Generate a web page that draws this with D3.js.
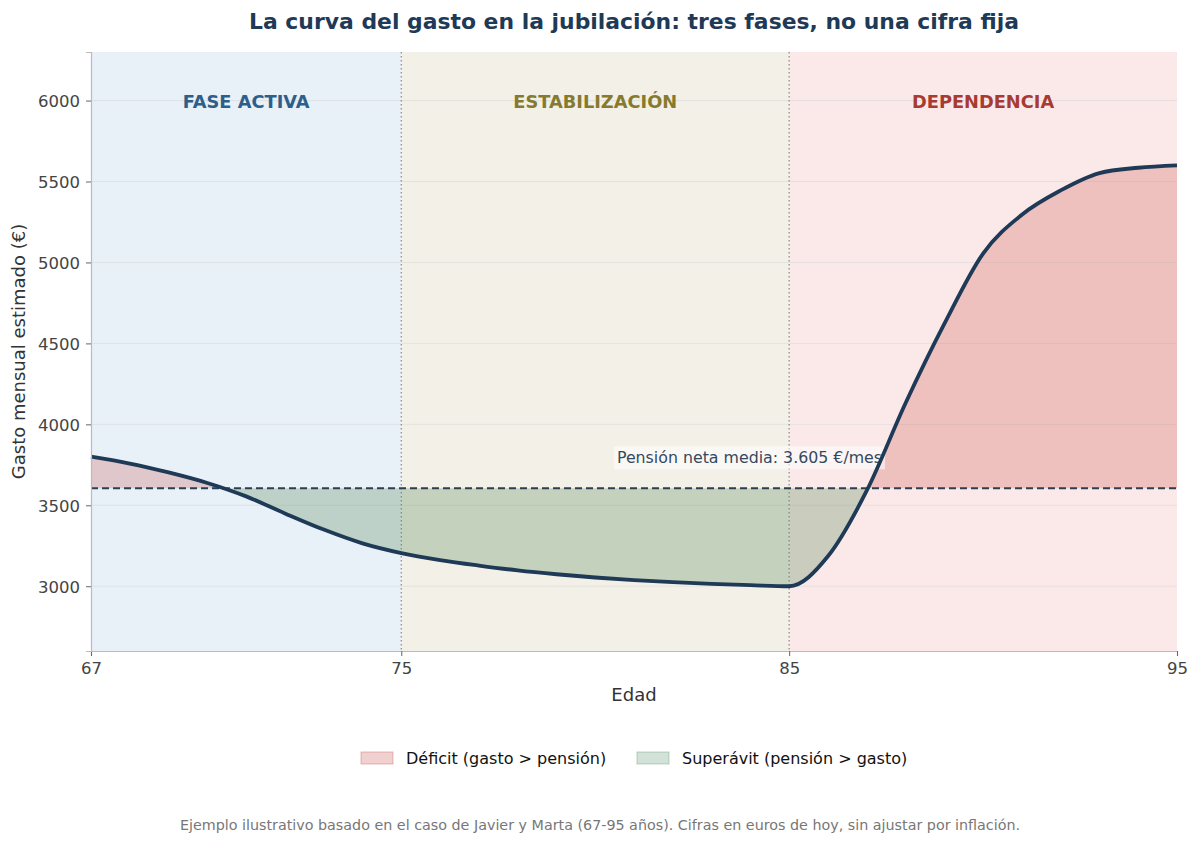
<!DOCTYPE html>
<html><head><meta charset="utf-8">
<script src="https://cdn.jsdelivr.net/npm/d3@7"></script>
<style>body{margin:0;background:#fff}svg{display:block}text{font-family:"DejaVu Sans",sans-serif}</style>
</head><body><svg id="c" width="1200" height="845"></svg>
<script>
const ages = [67,68,69,70,71,72,73,74,75,76,77,78,79,80,81,82,83,84,85,86,87,88,89,90,91,92,93,94,95];
const gasto = [3800,3758,3703,3638,3555,3450,3350,3265,3205,3162,3128,3098,3074,3054,3038,3025,3015,3007,3000,3185,3590,4130,4620,5055,5295,5445,5552,5585,5600];
const pension = 3605;
const phases = [
  {name:"FASE ACTIVA", from:67, to:75, bg:"#e8f0f8", color:"#2c5f8a"},
  {name:"ESTABILIZACIÓN", from:75, to:85, bg:"#f3f0e8", color:"#857a2e"},
  {name:"DEPENDENCIA", from:85, to:95, bg:"#fbe9e9", color:"#a83a32"}
];
const xTicks = [67,75,85,95];
const yTicks = [3000,3500,4000,4500,5000,5500,6000];
const legendItems = [
  {label:"Déficit (gasto > pensión)", fill:"rgba(214,120,120,0.35)", stroke:"rgba(214,120,120,0.5)"},
  {label:"Superávit (pensión > gasto)", fill:"rgba(110,160,125,0.3)", stroke:"rgba(110,160,125,0.45)"}
];
const title = "La curva del gasto en la jubilación: tres fases, no una cifra fija";
const footer = "Ejemplo ilustrativo basado en el caso de Javier y Marta (67-95 años). Cifras en euros de hoy, sin ajustar por inflación.";
const pensionLabel = "Pensión neta media: 3.605 €/mes";

const svg = d3.select("#c");
const m = {l:91, r:23, t:52, b:194};
const W = 1200, H = 845;
const x = d3.scaleLinear().domain([67,95]).range([m.l, W-m.r]);
const y = d3.scaleLinear().domain([2600,6300]).range([H-m.b, m.t]);
const data = ages.map((a,i)=>({a, v:gasto[i]}));

// phase backgrounds
svg.selectAll("rect.ph").data(phases).join("rect")
  .attr("x", d=>x(d.from)).attr("width", d=>x(d.to)-x(d.from))
  .attr("y", y(6300)).attr("height", y(2600)-y(6300))
  .attr("fill", d=>d.bg);

// grid
svg.append("g").selectAll("line").data(yTicks).join("line")
  .attr("x1", x(67)).attr("x2", x(95)).attr("y1", d=>y(d)).attr("y2", d=>y(d))
  .attr("stroke", "#d8d8d8").attr("stroke-opacity",0.6).attr("stroke-width",1);

// phase labels
svg.selectAll("text.ph").data(phases).join("text")
  .attr("x", d=>(x(d.from)+x(d.to))/2).attr("y", y(6000)+7)
  .attr("text-anchor","middle").attr("font-size","17.8px").attr("font-weight","bold")
  .attr("fill", d=>d.color).text(d=>d.name);

// vertical dotted lines
svg.append("g").selectAll("line").data([75,85]).join("line")
  .attr("x1", d=>x(d)).attr("x2", d=>x(d)).attr("y1", y(6300)).attr("y2", y(2600))
  .attr("stroke","#888").attr("stroke-width",1.2).attr("stroke-dasharray","1.5,2.5");

// areas with clip
const defs = svg.append("defs");
defs.append("clipPath").attr("id","above").append("rect")
  .attr("x", x(67)).attr("width", x(95)-x(67)).attr("y", 0).attr("height", y(pension));
defs.append("clipPath").attr("id","below").append("rect")
  .attr("x", x(67)).attr("width", x(95)-x(67)).attr("y", y(pension)).attr("height", H-y(pension));
const curve = d3.curveMonotoneX;
const area = d3.area().x(d=>x(d.a)).y0(y(pension)).y1(d=>y(d.v)).curve(curve);
svg.append("path").datum(data).attr("d", area).attr("clip-path","url(#above)")
  .attr("fill","rgba(200,80,75,0.26)");
svg.append("path").datum(data).attr("d", area).attr("clip-path","url(#below)")
  .attr("fill","rgba(90,138,90,0.3)");

// pension line
svg.append("line").attr("x1", x(67)).attr("x2", x(95)).attr("y1", y(pension)).attr("y2", y(pension))
  .attr("stroke","#2c3e50").attr("stroke-width",2).attr("stroke-dasharray","7,4");

// pension label
const lbl = svg.append("g");
const lt = lbl.append("text").attr("x", x(80.56)).attr("y", y(pension)-25)
  .attr("font-size","15.8px").attr("fill","#34495e").text(pensionLabel);
const bb = lt.node().getBBox();
lbl.insert("rect","text").attr("x", bb.x-3).attr("y", bb.y-2).attr("width", bb.width+6).attr("height", bb.height+4)
  .attr("fill","#fff").attr("fill-opacity",0.55);

// main line
const line = d3.line().x(d=>x(d.a)).y(d=>y(d.v)).curve(curve);
svg.append("path").datum(data).attr("d", line).attr("fill","none")
  .attr("stroke","#1e3a56").attr("stroke-width",3.8).attr("stroke-linejoin","round");

// axes
const xa = svg.append("g").attr("transform",`translate(0,${y(2600)})`)
  .call(d3.axisBottom(x).tickValues(xTicks).tickFormat(d3.format("d")).tickSize(5).tickPadding(6));
const ya = svg.append("g").attr("transform",`translate(${x(67)},0)`)
  .call(d3.axisLeft(y).tickValues(yTicks).tickFormat(d3.format("d")).tickSize(5).tickPadding(6));
[xa,ya].forEach(g=>{
  g.select(".domain").attr("stroke","#bbb").attr("stroke-width",1.2);
  g.selectAll(".tick line").attr("stroke","#666");
  g.selectAll(".tick text").attr("font-size","16.5px").attr("fill","#444").attr("font-family","DejaVu Sans");
});
ya.selectAll(".tick text").attr("dy","0.35em");

// axis labels
svg.append("text").attr("x",(x(67)+x(95))/2).attr("y",701).attr("text-anchor","middle")
  .attr("font-size","18px").attr("fill","#333").text("Edad");
svg.append("text").attr("transform",`translate(25,${(y(2600)+y(6300))/2}) rotate(-90)`)
  .attr("text-anchor","middle").attr("font-size","18px").attr("fill","#333").text("Gasto mensual estimado (€)");

// title
svg.append("text").attr("x",(x(67)+x(95))/2).attr("y",29).attr("text-anchor","middle")
  .attr("font-size","21.9px").attr("font-weight","bold").attr("fill","#1e3a56").text(title);

// legend
const lg = svg.append("g");
const starts = [361, 637];
legendItems.forEach((d,i)=>{
  lg.append("rect").attr("x", starts[i]).attr("y", 752).attr("width",32).attr("height",12)
    .attr("fill", d.fill).attr("stroke", d.stroke).attr("stroke-width",1);
  lg.append("text").attr("x", starts[i]+45).attr("y", 764).attr("font-size","16px").attr("fill","#111").text(d.label);
});

// footer
svg.append("text").attr("x",600).attr("y",830).attr("text-anchor","middle")
  .attr("font-size","14.3px").attr("fill","#777").text(footer);
</script></body></html>
